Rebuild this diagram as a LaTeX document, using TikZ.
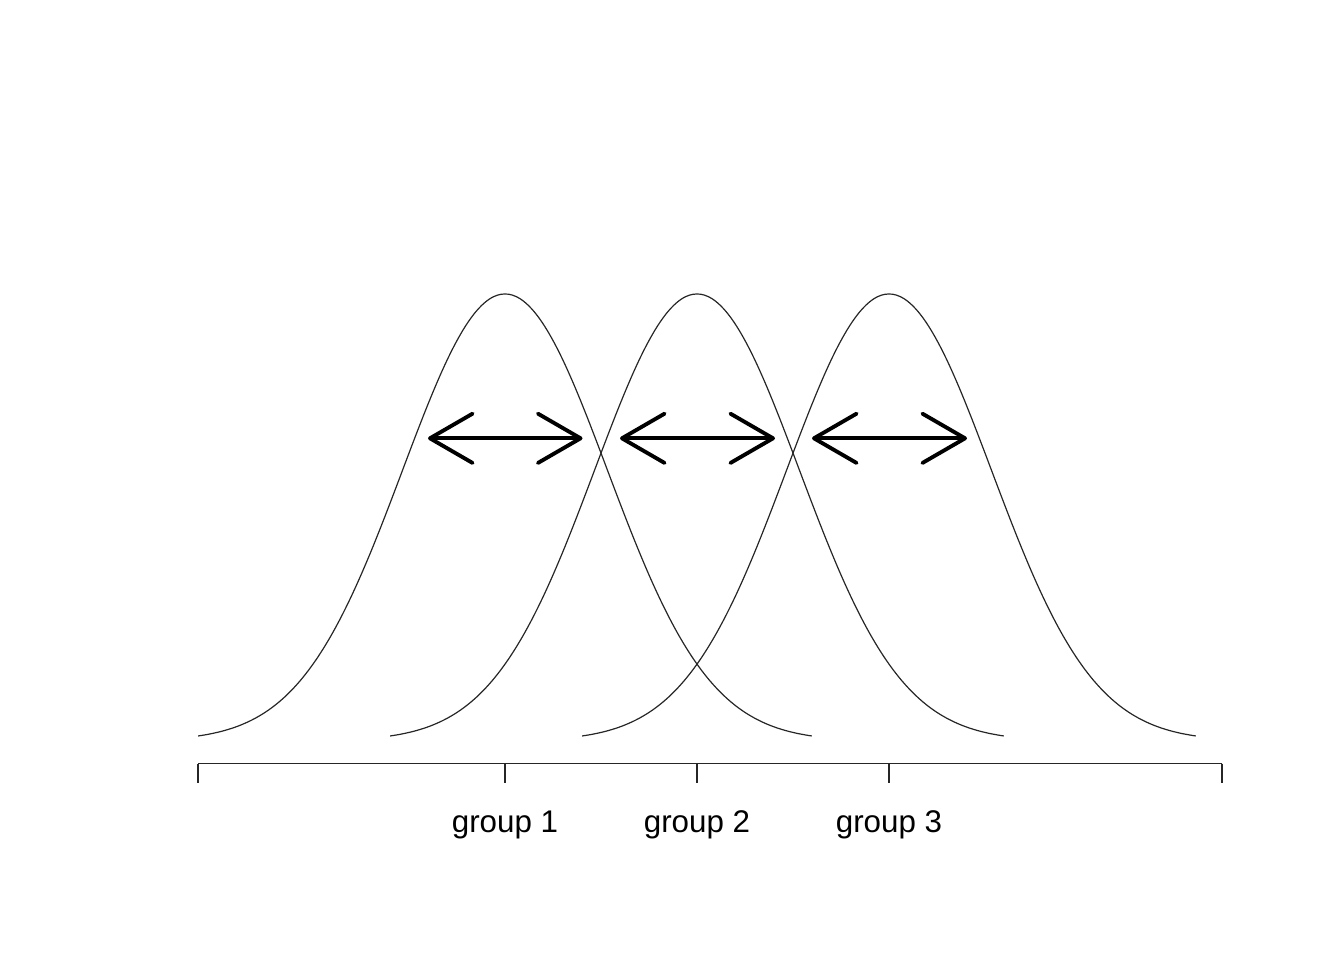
\documentclass[tikz,border=0pt]{standalone}
\usepackage{fontspec}
\setmainfont{Liberation Sans}
\usetikzlibrary{arrows.meta}
\begin{document}
\begin{tikzpicture}[x=0.75pt,y=-0.75pt,
  curve/.style={draw=black!85,line width=0.9pt},
  axisline/.style={draw=black!85,line width=0.9pt},
  dbl/.style={line width=2.9pt,line cap=round,line join=miter,
    {Straight Barb[length=32pt,width=37pt,line width=2.9pt,round]}-{Straight Barb[length=32pt,width=37pt,line width=2.9pt,round]}},
  lab/.style={anchor=base,font=\fontsize{23.5pt}{26pt}\selectfont,inner sep=0pt}]
\useasboundingbox (0,0) rectangle (1344,960);
% density curves
\foreach \c in {505,697,889}{
  \draw[curve] plot[domain=-3:3,samples=161,smooth] ({\c+102.3*\x},{740.9-446.9*exp(-\x*\x/2)});
}
% axis
\coordinate (a0) at (198,763.5);
\coordinate (a1) at (1222,763.5);
\draw[axisline] (a0) -- (a1);
\foreach \t in {198,505,697,889,1222}{
  \draw[axisline] (\t,763.5) -- (\t,783);
}
\node[lab] (g1) at (505,832.3) {group 1};
\node[lab] (g2) at (697,832.3) {group 2};
\node[lab] (g3) at (889,832.3) {group 3};
% arrows
\coordinate (l1) at (428,438.3); \coordinate (r1) at (582.5,438.3);
\coordinate (l2) at (620,438.3); \coordinate (r2) at (775,438.3);
\coordinate (l3) at (812,438.3); \coordinate (r3) at (967,438.3);
\draw[dbl] (l1) -- (r1);
\draw[dbl] (l2) -- (r2);
\draw[dbl] (l3) -- (r3);
\end{tikzpicture}
\end{document}
